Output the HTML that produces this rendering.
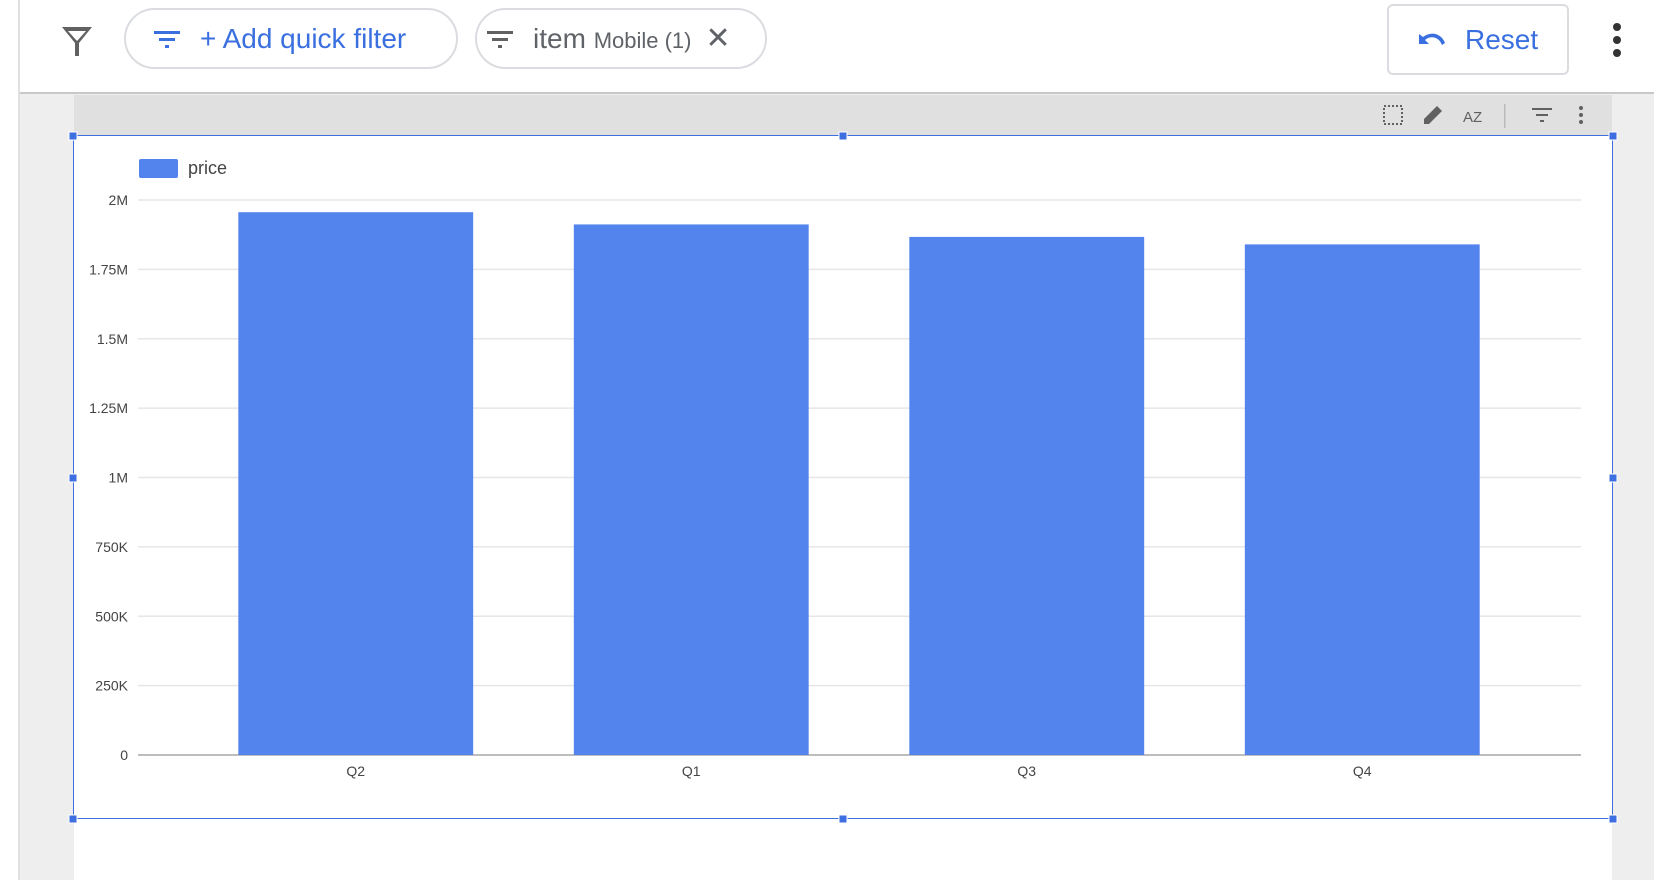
<!DOCTYPE html>
<html><head><meta charset="utf-8">
<style>
body{margin:0;width:1654px;height:880px;overflow:hidden;background:#fff;font-family:"Liberation Sans",sans-serif;position:relative}
.abs{position:absolute}
.chip{position:absolute;top:8px;height:61px;border:2px solid #dadce0;border-radius:32px;box-sizing:border-box;display:flex;align-items:center}
</style></head><body>
<div class="abs" style="left:18px;top:0;width:2px;height:880px;background:#e0e0e0"></div>
<div class="abs" style="left:20px;top:0;width:1634px;height:92px;background:#fff;border-bottom:2px solid #c8c8c8"></div>
<svg class="abs" style="left:60px;top:24px" width="34" height="34" viewBox="0 0 34 34"><path d="M2 3 H32 L19 19 V32 H15 V19 Z M8 7 L17 17 L26 7 Z" fill="#616161" fill-rule="evenodd"/></svg>
<div class="chip" style="left:124px;width:334px">
 <svg style="margin-left:28px" width="26" height="20" viewBox="0 0 26 20"><rect x="0" y="2" width="26" height="3" fill="#3a6fe0"/><rect x="5" y="9" width="16" height="3" fill="#3a6fe0"/><rect x="11" y="16" width="4" height="3" fill="#3a6fe0"/></svg>
 <span style="margin-left:20px;color:#3a6fe0;font-size:28px">+ Add quick filter</span>
</div>
<div class="chip" style="left:475px;width:292px">
 <svg style="margin-left:10px" width="26" height="20" viewBox="0 0 26 20"><rect x="0" y="2" width="26" height="3" fill="#616161"/><rect x="5" y="9" width="16" height="3" fill="#616161"/><rect x="11" y="16" width="4" height="3" fill="#616161"/></svg>
 <span style="margin-left:20px;color:#5f6368;font-size:28px">item <span style="font-size:22px">Mobile (1)</span></span>
 <span style="margin-left:14px;color:#5f6368;font-size:30px">✕</span>
</div>
<div class="abs" style="left:1387px;top:4px;width:182px;height:71px;border:2px solid #dadce0;border-radius:6px;box-sizing:border-box;display:flex;align-items:center">
 <svg style="margin-left:26px" width="32" height="20" viewBox="0 0 32 20"><path d="M4 4 V14 H14 L10 10 C16 5 24 7 27 15 L30 13 C26 3 16 1 8 7 Z" fill="#3a6fe0"/></svg>
 <span style="margin-left:18px;color:#3a6fe0;font-size:28px">Reset</span>
</div>
<svg class="abs" style="left:1610px;top:22px" width="14" height="36"><circle cx="7" cy="5" r="4" fill="#333"/><circle cx="7" cy="18" r="4" fill="#333"/><circle cx="7" cy="31" r="4" fill="#333"/></svg>

<div class="abs" style="left:20px;top:94px;width:1634px;height:786px;background:#eeeeee"></div>
<div class="abs" style="left:74px;top:95px;width:1538px;height:785px;background:#fff"></div>
<div class="abs" style="left:74px;top:95px;width:1538px;height:40px;background:#e0e0e0"></div>
<svg class="abs" style="left:1375px;top:100px" width="230" height="32">
 <rect x="9" y="6" width="18" height="18" fill="none" stroke="#616161" stroke-width="2" stroke-dasharray="2 2"/>
 <path d="M49 24 L49 19 L62 6 L67 11 L54 24 Z" fill="#616161"/>
 <text x="88" y="22" font-size="15" fill="#616161" font-family="Liberation Sans">AZ</text>
 <rect x="129" y="4" width="1.5" height="24" fill="#bbb"/>
 <g fill="#616161"><rect x="157" y="8" width="20" height="2"/><rect x="161" y="14" width="12" height="2"/><rect x="165" y="20" width="4" height="2"/></g>
 <g fill="#616161"><circle cx="206" cy="8" r="2"/><circle cx="206" cy="15" r="2"/><circle cx="206" cy="22" r="2"/></g>
</svg>
<div class="abs" style="left:73px;top:135px;width:1540px;height:684px;border:1.5px solid #3d6fe0;box-sizing:border-box"></div>
<svg class="abs" id="handles" style="left:0;top:0" width="1654" height="880"></svg>

<svg class="abs" id="chart" style="left:0;top:0" width="1654" height="880" font-family="Liberation Sans"></svg>
<script>
const categories=["Q2","Q1","Q3","Q4"];
const priceValues=[1956000,1912000,1867000,1840000];
const tickValues=[0,250000,500000,750000,1000000,1250000,1500000,1750000,2000000];
const tickLabels=["0","250K","500K","750K","1M","1.25M","1.5M","1.75M","2M"];
const NS="http://www.w3.org/2000/svg";
const svg=document.getElementById('chart');
const X0=138,X1=1581,Y0=755,Y1=200,MAX=2000000;
const C0=188,C1=1530;
const y=v=>Y0-(v/MAX)*(Y0-Y1);
const band=(C1-C0)/categories.length;
const x=i=>C0+band*i;
function mk(t,a){const e=document.createElementNS(NS,t);for(const k in a)e.setAttribute(k,a[k]);svg.appendChild(e);return e;}
tickValues.forEach((v,i)=>{
 const g=mk('line',{x1:X0,x2:X1,y1:y(v),y2:y(v),stroke:i===0?'#bdbdbd':'#e6e6e6','stroke-width':i===0?2:1.5});
 
 
 const t=mk('text',{x:128,y:y(v)+5,'text-anchor':'end','font-size':14,fill:'#444'});
 t.textContent=tickLabels[i];
 
 
});
categories.forEach((c,i)=>{
 const w=band*0.70,bx=x(i)+(band-w)/2;
 const r=mk('rect',{x:bx,y:y(priceValues[i]),width:w,height:Y0-y(priceValues[i]),fill:'#5383ec'});
 
 
 const t=mk('text',{x:x(i)+band/2,y:Y0+21,'text-anchor':'middle','font-size':14,fill:'#444'});
 t.textContent=c;
 
 
});
const sw=mk('rect',{x:139,y:159,width:39,height:19,rx:2,fill:'#5383ec'});


const lt=mk('text',{x:188,y:174,'font-size':18,fill:'#444'});
lt.textContent='price';


const h=document.getElementById('handles');
[[73,136],[843,136],[1613,136],[73,478],[1613,478],[73,819],[843,819],[1613,819]].forEach(p=>{
 const r=document.createElementNS(NS,'rect');
 r.setAttribute('x',p[0]-4);r.setAttribute('y',p[1]-4);r.setAttribute('width',8);r.setAttribute('height',8);
 r.setAttribute('fill','#3d6fe0');r.setAttribute('stroke','#fff');r.setAttribute('stroke-width',1);
 
 
 h.appendChild(r);
});
</script>
</body></html>
